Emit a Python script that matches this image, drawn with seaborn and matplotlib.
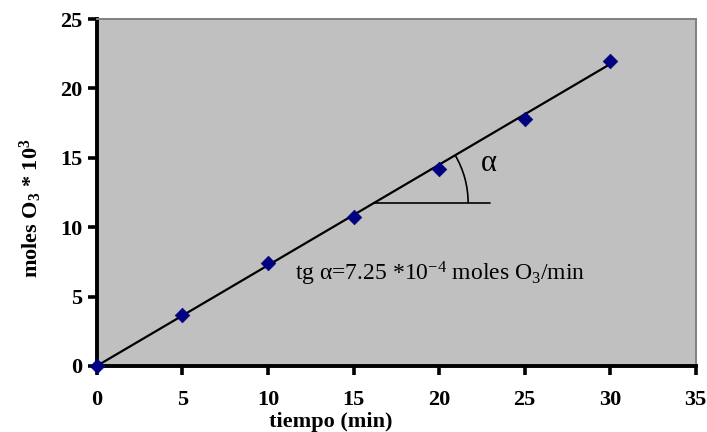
import numpy as np
import pandas as pd
import matplotlib
matplotlib.use("Agg")
import matplotlib.pyplot as plt
from matplotlib.patches import Arc
import seaborn as sns

# datos medidos
tiempo = [0, 5, 10, 15, 20, 25, 30]
moles_o3 = [0.0, 3.7, 7.4, 10.7, 14.2, 17.8, 22.0]

# recta de ajuste (pendiente 0.725)
ajuste_t = [0, 30]
ajuste_y = [0.0, 21.75]

# construcción del ángulo
horiz_t = [16.2, 23.0]
horiz_y = [11.74, 11.74]

df = pd.DataFrame({"tiempo": tiempo, "moles": moles_o3})
df_ajuste = pd.DataFrame({"tiempo": ajuste_t, "moles": ajuste_y})

sns.set_style("white")
plt.rcParams["font.family"] = ["Liberation Serif", "DejaVu Serif"]
plt.rcParams["mathtext.fontset"] = "custom"
plt.rcParams["mathtext.rm"] = "Liberation Serif"
plt.rcParams["mathtext.bf"] = "Liberation Serif:bold"
plt.rcParams["mathtext.it"] = "Liberation Serif:italic"
plt.rcParams["text.color"] = "black"
plt.rcParams["axes.labelcolor"] = "black"
plt.rcParams["xtick.color"] = "black"
plt.rcParams["ytick.color"] = "black"

fig = plt.figure(figsize=(7.07, 4.32), dpi=100)
ax = fig.add_axes([0.137, 0.153, 0.847, 0.803])
ax.set_facecolor("#c0c0c0")

sns.lineplot(data=df_ajuste, x="tiempo", y="moles", color="black", lw=1.6, ax=ax)
sns.scatterplot(data=df, x="tiempo", y="moles", marker="D", s=55, color="#000080",
                edgecolor="#000080", linewidth=0.5, zorder=5, clip_on=False, ax=ax)

# línea horizontal y arco del ángulo
ax.plot(horiz_t, horiz_y, color="black", lw=1.2)
pendiente = (ajuste_y[1] - ajuste_y[0]) / (ajuste_t[1] - ajuste_t[0])
ang = np.degrees(np.arctan(pendiente))
ax.add_patch(Arc((horiz_t[0], horiz_y[0]), 2 * 5.5, 2 * 6.8, theta1=0, theta2=ang,
                 color="black", lw=1.2))
ax.text(22.9, 14.6, "α", fontsize=22, ha="center", va="center")
ax.text(11.6, 6.6, r"tg α=7.25 *10$^{-4}$ moles O$_3$/min", fontsize=17,
        ha="left", va="center")

ax.set_xlim(0, 35)
ax.set_ylim(0, 25)
ax.set_xticks(range(0, 36, 5))
ax.set_yticks(range(0, 26, 5))

for s in ["left", "bottom"]:
    ax.spines[s].set_linewidth(2.8)
    ax.spines[s].set_color("black")
for s in ["top", "right"]:
    ax.spines[s].set_linewidth(1.4)
    ax.spines[s].set_color("#808080")

ax.tick_params(axis="both", direction="out", length=6.5, width=2.6, color="black",
               labelsize=16, bottom=True, left=True)
ax.tick_params(axis="x", pad=11)
ax.tick_params(axis="y", pad=4)
for lbl in ax.get_xticklabels() + ax.get_yticklabels():
    lbl.set_fontweight("bold")

ax.set_xlabel("tiempo (min)", fontsize=16, fontweight="bold")
ax.set_ylabel(r"moles O$_{\mathbf{3}}$ * 10$^{\mathbf{3}}$", fontsize=16, fontweight="bold")
ax.xaxis.set_label_coords(0.39, -0.133)
ax.yaxis.set_label_coords(-0.088, 0.455)

fig.savefig("out.png", dpi=100)
